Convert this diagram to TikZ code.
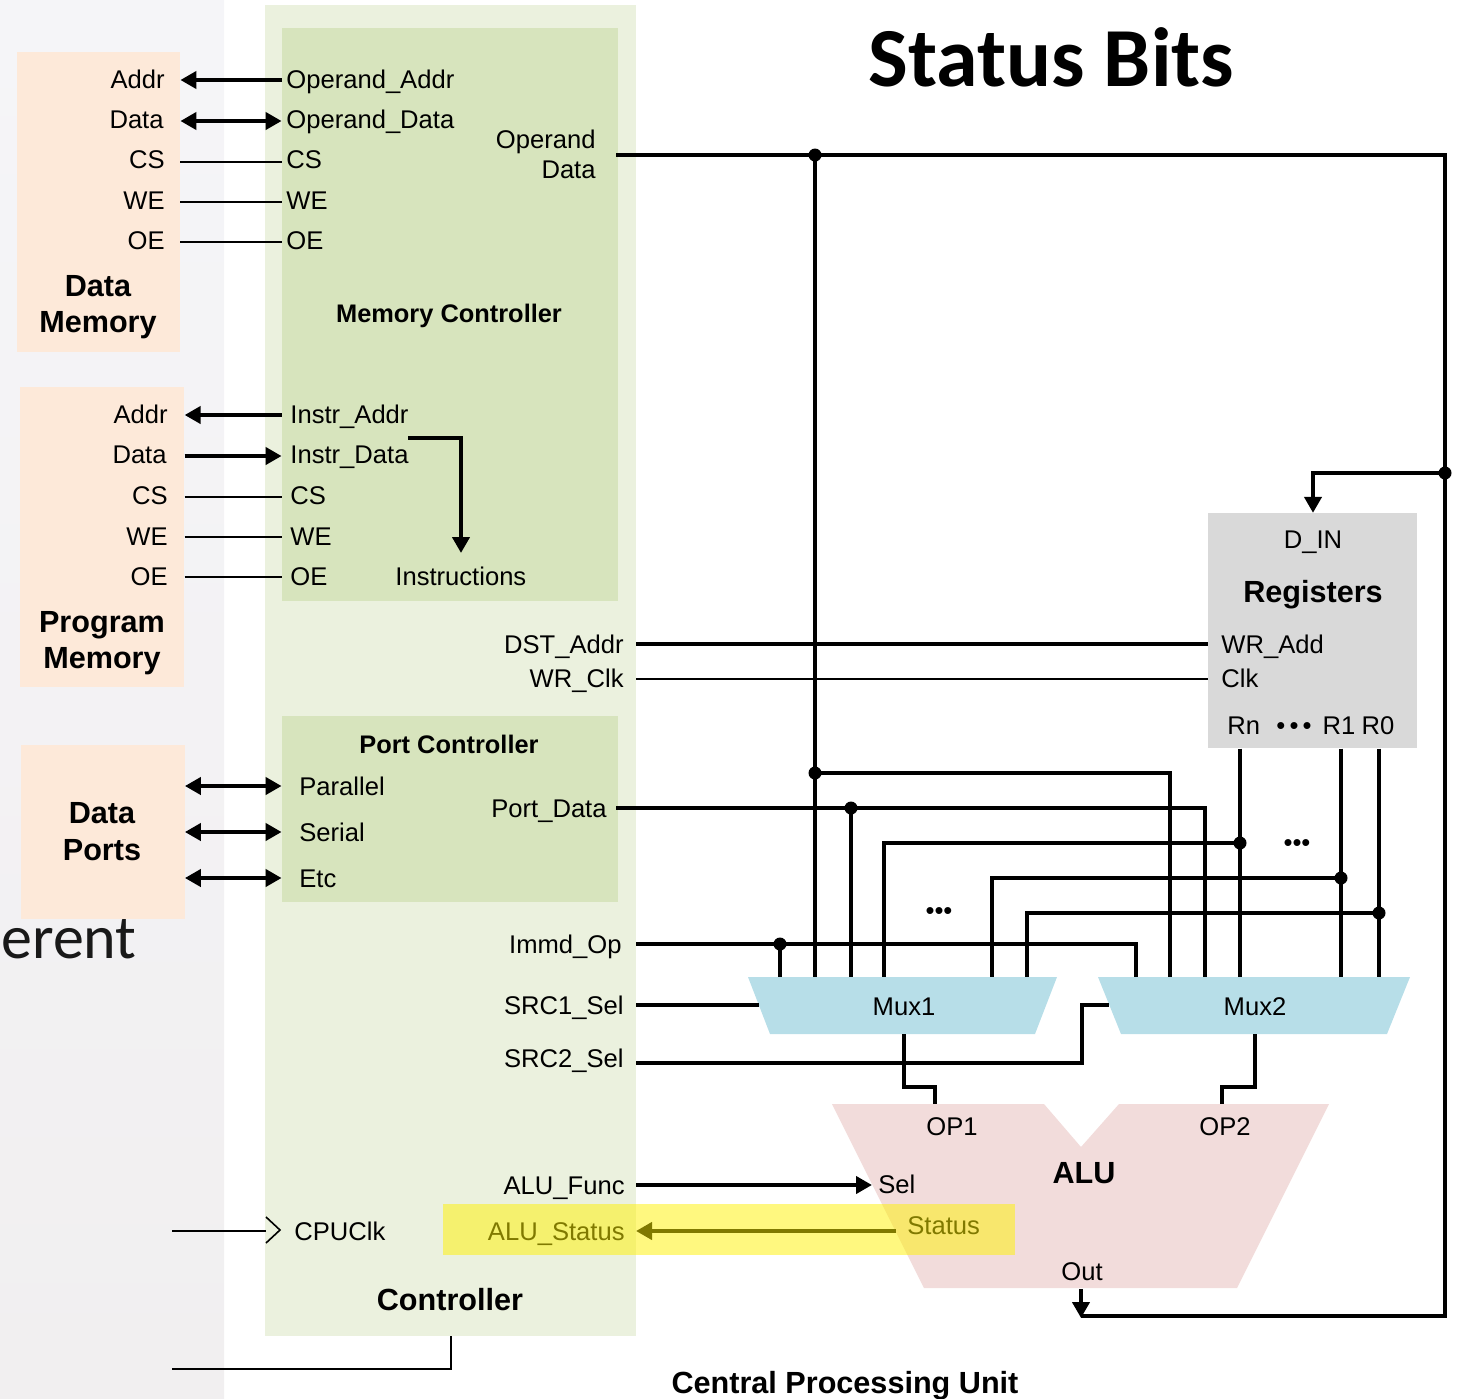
\documentclass[tikz,border=0pt]{standalone}
\usepackage{fontspec}
\setmainfont{Liberation Sans}
\newfontfamily\calibri{Carlito}
\usetikzlibrary{arrows.meta}
\definecolor{ctrlbg}{HTML}{EBF1DE}
\definecolor{innerbg}{HTML}{D7E4BD}
\definecolor{membg}{HTML}{FDE9D9}
\definecolor{regbg}{HTML}{D9D9D9}
\definecolor{muxbg}{HTML}{B7DEE8}
\definecolor{alubg}{HTML}{F2DCDB}
\definecolor{striptop}{HTML}{F5F5F8}
\definecolor{stripbot}{HTML}{F1EFF0}
\tikzset{
  lab/.style={inner sep=0pt, font=\fontsize{12.8}{15}\selectfont},
  blab/.style={inner sep=0pt, font=\bfseries\fontsize{12.7}{15}\selectfont},
  big/.style={inner sep=0pt, font=\bfseries\fontsize{15.3}{18}\selectfont},
  box/.style={inner sep=0pt, draw=none},
  bus/.style={line width=2.3pt},
  sig/.style={line width=0.8pt},
  bh/.tip={Triangle[length=8pt,width=8.5pt]},
  jdot/.style={circle, fill=black, inner sep=0pt, minimum size=6.5pt}
}
\begin{document}
\begin{tikzpicture}[x=0.5pt,y=-0.5pt]
\useasboundingbox (0,0) rectangle (1458,1399);
\clip (0,0) rectangle (1458,1399);
% left slide strip
\shade[top color=striptop, bottom color=stripbot] (0,0) rectangle (224,1399);
\node[inner sep=0pt, anchor=base west, font=\calibri\fontsize{31}{38}\selectfont, text=black!90] (erent) at (1,958) {erent};
\node[inner sep=0pt, anchor=base west, font=\calibri\bfseries\fontsize{42}{48}\selectfont] (title) at (868,86) {Status Bits};

% boxes
\node[box, fill=ctrlbg, minimum width=185.5pt, minimum height=665.5pt] (ctrl) at (450.5,670.5) {};
\node[box, fill=innerbg, minimum width=168pt, minimum height=286.5pt] (mc) at (450,314.5) {};
\node[box, fill=innerbg, minimum width=168pt, minimum height=93pt] (pc) at (450,809) {};
\node[box, fill=membg, minimum width=81.5pt, minimum height=150pt] (dm) at (98.5,202) {};
\node[box, fill=membg, minimum width=82pt, minimum height=150pt] (pm) at (102.25,537) {};
\node[box, fill=membg, minimum width=81.75pt, minimum height=87pt] (dp) at (102.75,832) {};
\node[box, fill=regbg, minimum width=104.5pt, minimum height=117.5pt] (reg) at (1312.5,630.75) {};

% mux and ALU shapes
\fill[muxbg] (748,977) -- (1057,977) -- (1035,1034) -- (770,1034) -- cycle;
\fill[muxbg] (1098,977) -- (1410,977) -- (1387,1034) -- (1121,1034) -- cycle;
\fill[alubg] (832,1104) -- (1044,1104) -- (1081,1147) -- (1119,1104) -- (1329,1104) -- (1237,1288) -- (924,1288) -- cycle;

% Data memory labels
\node[lab, anchor=base east] (dmaddr) at (165,88) {Addr};
\node[lab, anchor=base east] (dmdata) at (164,128) {Data};
\node[lab, anchor=base east] (dmcs) at (165,168) {CS};
\node[lab, anchor=base east] (dmwe) at (165,209) {WE};
\node[lab, anchor=base east] (dmoe) at (165,249) {OE};
\node[big, anchor=base] (dmt1) at (98,296) {Data};
\node[big, anchor=base] (dmt2) at (98,332) {Memory};
% Memory controller labels
\node[lab, anchor=base west] (mcaddr) at (286,88) {Operand\_Addr};
\node[lab, anchor=base west] (mcdata) at (286,128) {Operand\_Data};
\node[lab, anchor=base west] (mccs) at (286,168) {CS};
\node[lab, anchor=base west] (mcwe) at (286,209) {WE};
\node[lab, anchor=base west] (mcoe) at (286,249) {OE};
\node[lab, anchor=base east] (opd1) at (596,148) {Operand};
\node[lab, anchor=base east] (opd2) at (596,178) {Data};
\node[blab, anchor=base] (mctitle) at (449,322) {Memory Controller};
% Program memory labels
\node[lab, anchor=base east] (pmaddr) at (168,423) {Addr};
\node[lab, anchor=base east] (pmdata) at (167,463) {Data};
\node[lab, anchor=base east] (pmcs) at (168,504) {CS};
\node[lab, anchor=base east] (pmwe) at (168,545) {WE};
\node[lab, anchor=base east] (pmoe) at (168,585) {OE};
\node[big, anchor=base] (pmt1) at (102,632) {Program};
\node[big, anchor=base] (pmt2) at (102,668) {Memory};
\node[lab, anchor=base west] (iaddr) at (290,423) {Instr\_Addr};
\node[lab, anchor=base west] (idata) at (290,463) {Instr\_Data};
\node[lab, anchor=base west] (ics) at (290,504) {CS};
\node[lab, anchor=base west] (iwe) at (290,545) {WE};
\node[lab, anchor=base west] (ioe) at (290,585) {OE};
\node[lab, anchor=base west] (instr) at (395,585) {Instructions};
% controller signals
\node[lab, anchor=base east] (dst) at (624,653) {DST\_Addr};
\node[lab, anchor=base east] (wrclk) at (624,687) {WR\_Clk};
\node[blab, anchor=base] (pctitle) at (449,753) {Port Controller};
\node[lab, anchor=base west] (par) at (299,795) {Parallel};
\node[lab, anchor=base west] (ser) at (299,841) {Serial};
\node[lab, anchor=base west] (etc) at (299,887) {Etc};
\node[lab, anchor=base east] (portdata) at (607,817) {Port\_Data};
\node[big, anchor=base] (dpt1) at (102,823) {Data};
\node[big, anchor=base] (dpt2) at (102,860) {Ports};
\node[lab, anchor=base east] (immd) at (622,953) {Immd\_Op};
\node[lab, anchor=base east] (src1) at (624,1014) {SRC1\_Sel};
\node[lab, anchor=base east] (src2) at (624,1067) {SRC2\_Sel};
\node[lab, anchor=base east] (alufunc) at (625,1194) {ALU\_Func};
\node[lab, anchor=base east] (alustatus) at (625,1240) {ALU\_Status};
\node[lab, anchor=base west] (cpuclk) at (294,1240) {CPUClk};
\node[big, anchor=base] (ctrltitle) at (450,1310) {Controller};
\node[big, anchor=base] (cpu) at (845,1393) {Central Processing Unit};
% registers
\node[lab, anchor=base] (din) at (1313,548) {D\_IN};
\node[big, anchor=base] (regt) at (1313,602) {Registers};
\node[lab, anchor=base west] (wradd) at (1221,653) {WR\_Add};
\node[lab, anchor=base west] (clk) at (1221,687) {Clk};
\node[lab, anchor=base west] (rn) at (1227,734) {Rn};
\node[lab, anchor=base] (rdots) at (1294,734) {•\,•\,•};
\node[lab, anchor=base] (r1) at (1339,734) {R1};
\node[lab, anchor=base] (r0) at (1378,734) {R0};
% mux / alu labels
\node[lab, anchor=base] (mux1) at (904,1015) {Mux1};
\node[lab, anchor=base] (mux2) at (1255,1015) {Mux2};
\node[lab, anchor=base] (op1) at (952,1135) {OP1};
\node[lab, anchor=base] (op2) at (1225,1135) {OP2};
\node[big, anchor=base] (alut) at (1084,1183) {ALU};
\node[lab, anchor=base west] (sel) at (878,1193) {Sel};
\node[lab, anchor=base west] (status) at (907,1234) {Status};
\node[lab, anchor=base] (out) at (1082,1280) {Out};
\node[lab] (dots1) at (939,914) {•••};
\node[lab] (dots2) at (1297,846) {•••};

% memory interfaces
\draw[bus, bh-] (dm.east |- 0,80) -- (mc.west |- 0,80);
\draw[bus, bh-bh] (dm.east |- 0,121) -- (mc.west |- 0,121);
\draw[sig] (dm.east |- 0,162) -- (mc.west |- 0,162);
\draw[sig] (dm.east |- 0,202) -- (mc.west |- 0,202);
\draw[sig] (dm.east |- 0,242) -- (mc.west |- 0,242);
\draw[bus, bh-] (pm.east |- 0,415) -- (mc.west |- 0,415);
\draw[bus, -bh] (pm.east |- 0,456) -- (mc.west |- 0,456);
\draw[sig] (pm.east |- 0,497) -- (mc.west |- 0,497);
\draw[sig] (pm.east |- 0,537) -- (mc.west |- 0,537);
\draw[sig] (pm.east |- 0,577) -- (mc.west |- 0,577);
\draw[bus, -bh] (408,438) -- (461,438) -- (461,553);
\draw[bus, bh-bh] (dp.east |- 0,786) -- (pc.west |- 0,786);
\draw[bus, bh-bh] (dp.east |- 0,832) -- (pc.west |- 0,832);
\draw[bus, bh-bh] (dp.east |- 0,878) -- (pc.west |- 0,878);

% clock and bottom
\coordinate (clkin) at (172,1231);
\coordinate (botin) at (172,1369);
\draw[sig] (clkin) -- (266,1231);
\draw[sig] (266,1217) -- (280,1230) -- (266,1243);
\draw[sig] (botin) -- (451,1369) -- (ctrl.south -| 451,0);

% operand data net
\coordinate (opd) at (616,155);
\draw[bus] (opd) -- (1445,155) -- (1445,1316) -- (1081,1316);
\draw[bus, -bh] (1081,1289) -- (1081,1318);
\draw[bus, -bh] (1445,473) -- (1313,473) -- (reg.north -| 1313,0);
\draw[bus] (815,155) -- (815,977);
\draw[bus] (815,773) -- (1170,773) -- (1170,977);
% port data
\draw[bus] (616,808) -- (1205,808) -- (1205,977);
\draw[bus] (851,808) -- (851,977);
% registers outputs
\draw[bus] (reg.south -| 1240,0) -- (1240,977);
\draw[bus] (1240,843) -- (884,843) -- (884,977);
\draw[bus] (reg.south -| 1341,0) -- (1341,977);
\draw[bus] (1341,878) -- (992,878) -- (992,977);
\draw[bus] (reg.south -| 1379,0) -- (1379,977);
\draw[bus] (1379,913) -- (1027,913) -- (1027,977);
% immediate
\draw[bus] (636,944) -- (1136,944) -- (1136,977);
\draw[bus] (780,944) -- (780,977);
% selects
\draw[bus] (636,1005) -- (759,1005);
\draw[bus] (636,1063) -- (1082,1063) -- (1082,1005) -- (1109,1005);
% mux outputs
\draw[bus] (904,1034) -- (904,1087) -- (935,1087) -- (935,1104);
\draw[bus] (1255,1034) -- (1255,1087) -- (1222,1087) -- (1222,1104);
% registers inputs
\draw[bus] (636,644) -- (reg.west |- 0,644);
\draw[sig] (636,679) -- (reg.west |- 0,679);
% alu control
\draw[bus, -bh] (636,1185) -- (872,1185);
\draw[bus, -bh] (896,1231) -- (636,1231);

% junctions
\foreach \p in {(815,155),(1445,473),(815,773),(851,808),(1240,843),(1341,878),(1379,913),(780,944)}
  \node[jdot] at \p {};

% highlight
\fill[yellow, fill opacity=0.5] (443,1204) rectangle (1015,1255);
\end{tikzpicture}
\end{document}
